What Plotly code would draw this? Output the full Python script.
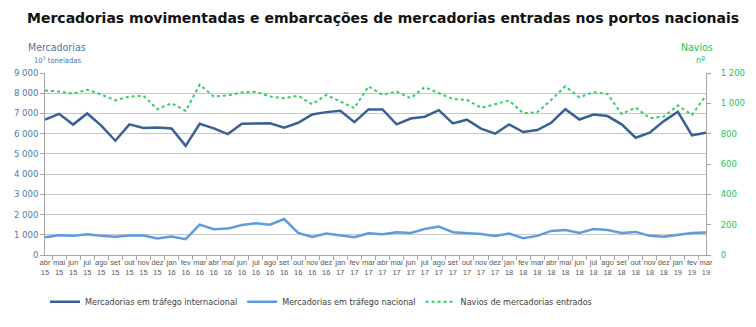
import plotly.graph_objects as go

# Monthly categories, April 2015 to March 2019
months = ["abr", "mai", "jun", "jul", "ago", "set", "out", "nov", "dez", "jan", "fev", "mar"]
years = (["15"] * 9 + ["16"] * 3) + (["16"] * 9 + ["17"] * 3) + (["17"] * 9 + ["18"] * 3) + (["18"] * 9 + ["19"] * 3)
categories = [f"{months[i % 12]}<br>{years[i]}" for i in range(48)]

# Goods in international traffic (10^3 tonnes)
internacional = [6700, 6980, 6450, 7000, 6400, 5650, 6460, 6280, 6310, 6260, 5400, 6490,
                 6260, 5980, 6490, 6510, 6510, 6300, 6540, 6950, 7065, 7130, 6570, 7200,
                 7200, 6460, 6750, 6840, 7160, 6510, 6690, 6250, 6000, 6460, 6080, 6180,
                 6540, 7210, 6700, 6950, 6870, 6460, 5800, 6050, 6620, 7080, 5920, 6050]

# Goods in national traffic (10^3 tonnes)
nacional = [880, 980, 946, 1028, 946, 897, 962, 962, 816, 913, 783, 1500,
            1272, 1305, 1480, 1566, 1500, 1778, 1093, 897, 1060, 962, 880, 1077,
            1028, 1126, 1093, 1289, 1403, 1126, 1093, 1040, 946, 1060, 832, 946,
            1191, 1240, 1093, 1289, 1240, 1093, 1142, 946, 897, 980, 1093, 1110]

# Goods vessels entered (number)
navios = [1085, 1078, 1063, 1090, 1058, 1019, 1045, 1050, 961, 1001, 950, 1123,
          1045, 1052, 1072, 1076, 1045, 1034, 1050, 994, 1056, 1012, 968, 1112,
          1056, 1078, 1034, 1107, 1067, 1028, 1023, 970, 994, 1019, 935, 941,
          1023, 1112, 1039, 1074, 1061, 930, 972, 902, 913, 986, 924, 1052]

left_ticks = [0, 1000, 2000, 3000, 4000, 5000, 6000, 7000, 8000, 9000]
right_ticks = [0, 200, 400, 600, 800, 1000, 1200]

dark_blue = "#3A6095"
light_blue = "#5E9BE0"
green = "#33CC66"
narrow = "DejaVu Sans Condensed, Liberation Sans Narrow, Liberation Sans, sans-serif"

fig = go.Figure()
fig.add_trace(go.Scatter(x=categories, y=internacional, mode="lines",
                         name="Mercadorias em tráfego internacional",
                         line=dict(color=dark_blue, width=2.5)))
fig.add_trace(go.Scatter(x=categories, y=nacional, mode="lines",
                         name="Mercadorias em tráfego nacional",
                         line=dict(color=light_blue, width=2.5)))
fig.add_trace(go.Scatter(x=categories, y=navios, mode="lines", yaxis="y2",
                         name="Navios de mercadorias entrados",
                         line=dict(color=green, width=2, dash="dot")))

fig.update_layout(
    width=756, height=327,
    margin=dict(l=45, r=50, t=73, b=71),
    paper_bgcolor="white", plot_bgcolor="white",
    separators=", ",
    showlegend=True,
    title=dict(text="<b>Mercadorias movimentadas e embarcações de mercadorias entradas nos portos nacionais</b>",
               x=27 / 756, xref="container", xanchor="left",
               y=1 - 18 / 327, yref="container", yanchor="middle",
               font=dict(family="DejaVu Sans, sans-serif", size=14, color="#111111")),
    xaxis=dict(type="category", tickson="boundaries", ticks="outside", ticklen=4,
               tickcolor="#A6A6A6", showline=True, linecolor="#A6A6A6", linewidth=1,
               showgrid=False, tickangle=0,
               tickfont=dict(family="Liberation Sans, sans-serif", size=7.5, color="#595959")),
    yaxis=dict(range=[0, 9000], tickvals=left_ticks, tickformat=",d",
               showgrid=True, gridcolor="#C8C8C8", gridwidth=1,
               showline=True, linecolor="#A6A6A6", ticks="outside", ticklen=4,
               tickcolor="#A6A6A6", zeroline=False,
               tickfont=dict(family="DejaVu Sans, sans-serif", size=8.5, color="#4F76B0")),
    yaxis2=dict(range=[0, 1200], tickvals=right_ticks, tickformat=",d",
                overlaying="y", side="right", showgrid=False, zeroline=False,
                showline=True, linecolor="#A6A6A6", ticks="outside", ticklen=4,
                tickcolor="#A6A6A6", ticklabelstandoff=8,
                tickfont=dict(family="DejaVu Sans, sans-serif", size=8.5, color="#22C55A")),
    legend=dict(orientation="h", x=0.0, xanchor="left", y=-0.25, yanchor="middle",
                font=dict(family=narrow, size=9, color="#404040"),
                itemwidth=30, tracegroupgap=0),
    annotations=[
        dict(text="Mercadorias", x=57, y=47, xref="paper", yref="paper", showarrow=False,
             font=dict(family=narrow, size=10.5, color="#4F76B0")),
        dict(text="10<sup>3</sup> toneladas", x=57, y=60, xref="paper", yref="paper",
             showarrow=False, font=dict(family=narrow, size=7.5, color="#4F76B0")),
        dict(text="Navios", x=697, y=47, xref="paper", yref="paper", showarrow=False,
             font=dict(family=narrow, size=10.5, color="#22C55A")),
        dict(text="nº", x=700, y=60, xref="paper", yref="paper", showarrow=False,
             font=dict(family=narrow, size=9, color="#22C55A")),
    ],
)

# Convert the axis-title annotation positions from pixels to paper fractions
plot_w = 756 - 45 - 50
plot_h = 327 - 73 - 71
for ann in fig.layout.annotations:
    px, py = ann.x, ann.y
    ann.x = (px - 45) / plot_w
    ann.y = (327 - 71 - py) / plot_h
    ann.xanchor = "center"
    ann.yanchor = "middle"

fig.write_html("out.html")
